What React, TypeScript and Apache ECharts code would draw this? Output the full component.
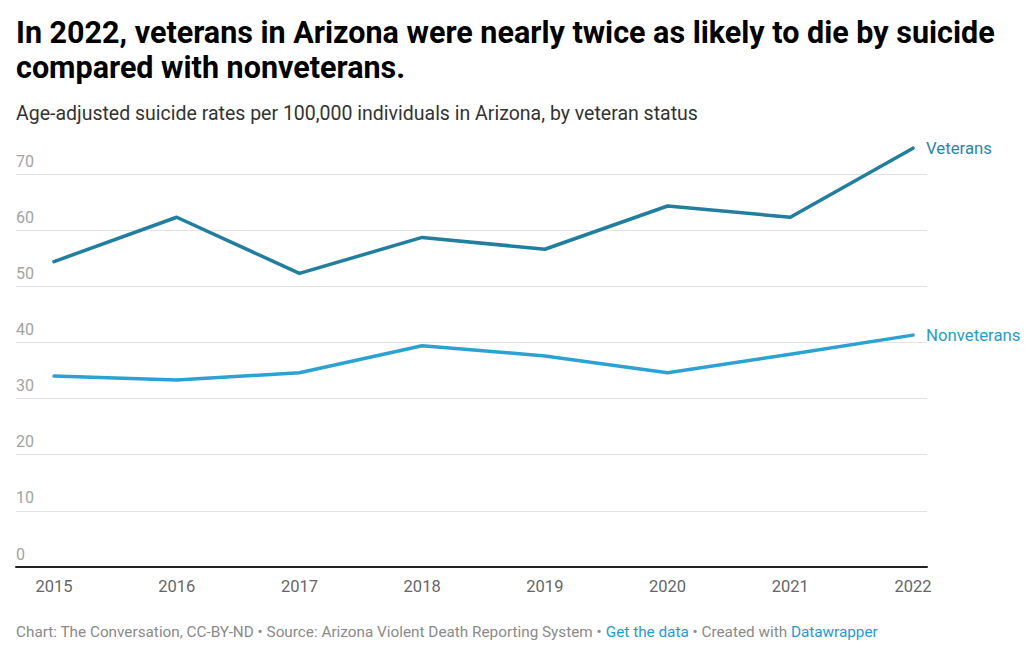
import React, { useEffect, useRef } from "react";
import * as echarts from "echarts";

const years = ["2015", "2016", "2017", "2018", "2019", "2020", "2021", "2022"];
const veterans = [54.4, 62.3, 52.3, 58.7, 56.6, 64.3, 62.3, 74.6];
const nonveterans = [34.0, 33.3, 34.6, 39.4, 37.6, 34.6, 37.9, 41.3];
const yTicks = [0, 10, 20, 30, 40, 50, 60, 70];

const titleText =
  "In 2022, veterans in Arizona were nearly twice as likely to die by suicide\ncompared with nonveterans.";
const subtitleText =
  "Age-adjusted suicide rates per 100,000 individuals in Arizona, by veteran status";

const VET_COLOR = "#227e9e";
const NON_COLOR = "#2ca2d2";
const FONT = "Roboto, 'Noto Sans', sans-serif";

export default function App() {
  const ref = useRef<HTMLDivElement>(null);
  useEffect(() => {
    if (!ref.current) return;
    const chart = echarts.init(ref.current, null, { renderer: "svg" });
    const yMax = yTicks[yTicks.length - 1];
    chart.setOption({
      animation: false,
      backgroundColor: "#ffffff",
      textStyle: { fontFamily: FONT },
      title: [
        {
          text: titleText,
          left: 16,
          top: 15,
          padding: 0,
          textStyle: {
            fontFamily: FONT,
            fontSize: 30.5,
            fontWeight: "bold",
            color: "#000000",
            lineHeight: 35,
          },
        },
        {
          text: subtitleText,
          left: 16,
          top: 103,
          padding: 0,
          textStyle: {
            fontFamily: FONT,
            fontSize: 19.5,
            fontWeight: "normal",
            color: "#333333",
          },
        },
      ],
      grid: [
        { left: 16, right: 103, top: 174, bottom: 668 - 567, containLabel: false },
        { left: 54, right: 117, top: 174, bottom: 668 - 567, containLabel: false },
      ],
      xAxis: [
        {
          gridIndex: 0,
          type: "value",
          min: 0,
          max: 1,
          axisLine: { show: true, onZero: false, lineStyle: { color: "#222222", width: 2 } },
          axisTick: { show: false },
          axisLabel: { show: false },
          splitLine: { show: false },
        },
        {
          gridIndex: 1,
          type: "category",
          data: years,
          boundaryGap: false,
          axisLine: { show: false },
          axisTick: { show: false },
          axisLabel: {
            color: "#666666",
            fontSize: 16.5,
            fontFamily: FONT,
            margin: 11,
          },
          splitLine: { show: false },
        },
      ],
      yAxis: [
        {
          gridIndex: 0,
          type: "value",
          min: 0,
          max: yMax,
          interval: 10,
          axisLine: { show: false },
          axisTick: { show: false },
          axisLabel: {
            inside: true,
            margin: 0,
            verticalAlign: "bottom",
            padding: [0, 0, 5, 0],
            color: "#a3a3a3",
            fontSize: 16,
            fontFamily: FONT,
          },
          splitLine: { show: true, lineStyle: { color: "#e3e3e3", width: 1 } },
        },
        {
          gridIndex: 1,
          type: "value",
          min: 0,
          max: yMax,
          interval: 10,
          show: false,
          splitLine: { show: false },
        },
      ],
      series: [
        {
          name: "Veterans",
          type: "line",
          xAxisIndex: 1,
          yAxisIndex: 1,
          data: veterans,
          clip: false,
          symbol: "none",
          lineStyle: { color: VET_COLOR, width: 3.5, cap: "round", join: "round" },
          itemStyle: { color: VET_COLOR },
          endLabel: {
            show: true,
            formatter: "Veterans",
            color: "#2a86a6",
            fontSize: 16.8,
            fontFamily: FONT,
            distance: 13,
          },
        },
        {
          name: "Nonveterans",
          type: "line",
          xAxisIndex: 1,
          yAxisIndex: 1,
          data: nonveterans,
          clip: false,
          symbol: "none",
          lineStyle: { color: NON_COLOR, width: 3.5, cap: "round", join: "round" },
          itemStyle: { color: NON_COLOR },
          endLabel: {
            show: true,
            formatter: "Nonveterans",
            color: "#2a9cc9",
            fontSize: 16.8,
            fontFamily: FONT,
            distance: 13,
          },
        },
      ],
      graphic: [
        {
          type: "text",
          left: 16,
          top: 624,
          style: {
            text:
              "{g|Chart: The Conversation, CC-BY-ND • Source: Arizona Violent Death Reporting System • }{b|Get the data}{g| • Created with }{b|Datawrapper}",
            fontFamily: FONT,
            fontSize: 15.3,
            rich: {
              g: { fill: "#8a8a8a", fontSize: 15.3, fontFamily: FONT },
              b: { fill: "#1f9bd1", fontSize: 15.3, fontFamily: FONT },
            },
          },
        },
      ],
    });
    return () => chart.dispose();
  }, []);
  return <div ref={ref} style={{ width: 1030, height: 668, margin: -8 }} />;
}
